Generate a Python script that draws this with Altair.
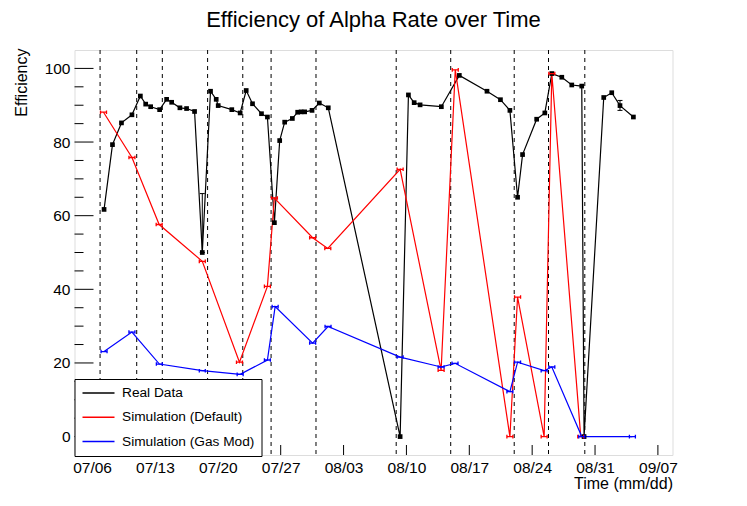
import altair as alt
import pandas as pd

YEAR = 2023
FONT = "Liberation Sans"

series_names = ["Real Data", "Simulation (Default)", "Simulation (Gas Mod)"]
series_colors = ["black", "red", "blue"]

real_time = [
    "07/07 08:00", "07/08 06:30", "07/09 06:30", "07/10 10:30", "07/11 09:00", "07/11 23:15",
    "07/12 12:30", "07/13 12:30", "07/14 07:10", "07/14 20:40", "07/15 18:40", "07/16 12:30",
    "07/17 09:50", "07/18 06:30", "07/19 04:30", "07/19 19:40", "07/20 01:00", "07/21 13:20",
    "07/22 11:40", "07/23 03:50", "07/23 20:40", "07/24 20:40", "07/25 12:30", "07/26 07:10",
    "07/26 21:20", "07/27 10:40", "07/28 07:10", "07/28 21:20", "07/29 06:30", "07/29 16:00",
    "07/30 11:45", "07/31 07:10", "08/01 07:10", "08/09 07:10", "08/10 05:20", "08/10 20:40",
    "08/11 12:30", "08/13 21:20", "08/15 21:20", "08/18 23:15", "08/20 11:15", "08/21 12:30",
    "08/22 09:00", "08/22 22:20", "08/24 12:00", "08/25 09:50", "08/26 04:30", "08/27 07:10",
    "08/28 09:50", "08/29 12:30", "08/29 18:40", "08/31 23:15", "09/01 20:40", "09/02 18:40",
    "09/04 06:30",
]
real_eff = [
    61.7, 79.3, 85.2, 87.4, 92.5, 90.3,
    89.6, 88.8, 91.6, 90.8, 89.3, 89.1,
    88.3, 50.0, 93.8, 91.6, 89.9, 88.8,
    87.9, 94.0, 90.4, 87.7, 86.8, 58.1,
    80.4, 85.4, 86.4, 88.1, 88.2, 88.2,
    88.6, 90.6, 89.3, 0.0, 92.8, 90.7,
    90.1, 89.6, 98.1, 93.8, 91.5, 88.6,
    65.0, 76.6, 86.2, 87.9, 98.6, 97.6,
    95.5, 95.2, 0.0, 92.1, 93.4, 89.9,
    86.8,
]

# visible error bars of the real data
err_time = ["07/18 06:30", "09/02 18:40"]
err_lo = [50.0, 88.6]
err_hi = [66.0, 91.3]

sim_default_time = [
    "07/07 06:30", "07/10 10:30", "07/13 11:15", "07/18 06:30", "07/22 09:50", "07/25 12:30",
    "07/26 07:10", "07/30 13:20", "08/01 05:50", "08/09 07:10", "08/13 20:40", "08/15 10:30",
    "08/21 12:30", "08/22 09:00", "08/25 08:00", "08/26 04:30", "08/29 09:50",
]
sim_default_eff = [
    88.1, 75.8, 57.6, 47.6, 20.2, 40.8,
    64.8, 54.0, 51.1, 72.6, 18.0, 99.6,
    0.0, 37.9, 0.0, 98.6, 0.0,
]

sim_gas_time = [
    "07/07 08:00", "07/10 10:30", "07/13 11:45", "07/18 06:30", "07/22 11:40", "07/25 12:30",
    "07/26 09:10", "07/30 13:20", "08/01 06:30", "08/09 07:10", "08/13 20:40", "08/15 09:50",
    "08/21 12:30", "08/22 09:00", "08/25 08:00", "08/26 04:30", "08/29 12:30", "09/04 03:50",
]
sim_gas_eff = [
    23.1, 28.4, 19.7, 17.9, 16.9, 20.8,
    35.3, 25.4, 29.9, 21.6, 18.9, 19.9,
    12.2, 20.2, 17.9, 18.9, 0.0, 0.0,
]

run_boundaries = [
    "07/06 21:20", "07/10 23:15", "07/13 19:40", "07/18 20:40", "07/22 18:40", "07/25 22:20",
    "07/30 22:20", "08/08 20:40", "08/14 22:20", "08/22 00:00", "08/25 19:40", "08/29 20:40",
]

x_tick_dates = [(7, 6), (7, 13), (7, 20), (7, 27), (8, 3), (8, 10), (8, 17), (8, 24), (8, 31), (9, 7)]
y_major = [0, 20, 40, 60, 80, 100]
y_minor = [5, 10, 15, 25, 30, 35, 45, 50, 55, 65, 70, 75, 85, 90, 95]


def iso(s):
    md, hm = s.split(" ")
    m, d = md.split("/")
    return f"{YEAR}-{m}-{d}T{hm}:00"


frames = []
for name, times, effs in [
    (series_names[0], real_time, real_eff),
    (series_names[1], sim_default_time, sim_default_eff),
    (series_names[2], sim_gas_time, sim_gas_eff),
]:
    frames.append(pd.DataFrame({"time": [iso(t) for t in times], "eff": effs, "series": name}))
data = pd.concat(frames, ignore_index=True)

err_df = pd.DataFrame({"time": [iso(t) for t in err_time], "lo": err_lo, "hi": err_hi})
bound_df = pd.DataFrame({"time": [iso(t) for t in run_boundaries]})
xtick_df = pd.DataFrame({"time": [f"{YEAR}-{m:02d}-{d:02d}T00:00:00" for m, d in x_tick_dates]})
ymaj_df = pd.DataFrame({"eff": y_major})
ymin_df = pd.DataFrame({"eff": y_minor})

W, H = 598, 405

xscale = alt.Scale(domain=[alt.DateTime(year=YEAR, month=7, date=4, hours=1),
                           alt.DateTime(year=YEAR, month=9, date=8, hours=15)])
yscale = alt.Scale(domain=[-5, 105], nice=False, zero=False)

xaxis = alt.Axis(
    values=[alt.DateTime(year=YEAR, month=m, date=d) for m, d in x_tick_dates],
    format="%m/%d", title="Time (mm/dd)", ticks=False, domain=False, grid=False,
    labelFont=FONT, labelFontSize=15.5, labelColor="black", labelPadding=5,
    titleFont=FONT, titleFontSize=16, titleFontWeight="normal", titleColor="black",
    titleX=W, titleY=33, titleAlign="right", titleBaseline="alphabetic",
)
yaxis = alt.Axis(
    values=y_major, title="Efficiency", ticks=False, domain=False, grid=False,
    labelFont=FONT, labelFontSize=15.5, labelColor="black", labelPadding=4.5,
    titleFont=FONT, titleFontSize=16, titleFontWeight="normal", titleColor="black",
    titleX=-53, titleY=-2, titleAlign="right", titleBaseline="middle", titleAngle=270,
)


def X(field="time"):
    return alt.X(f"{field}:T", scale=xscale, axis=xaxis)


def Y(field="eff"):
    return alt.Y(f"{field}:Q", scale=yscale, axis=yaxis)


dashed = alt.Chart(bound_df).mark_rule(color="black", strokeWidth=1, strokeDash=[4, 4]).encode(x=X())

ymaj = alt.Chart(ymaj_df).mark_rule(color="black", strokeWidth=1).encode(
    y=Y(), x=alt.value(0), x2=alt.value(19))
ymin = alt.Chart(ymin_df).mark_rule(color="black", strokeWidth=1).encode(
    y=Y(), x=alt.value(0), x2=alt.value(9))
xmaj = alt.Chart(xtick_df).mark_rule(color="black", strokeWidth=1).encode(
    x=X(), y=alt.value(H), y2=alt.value(H - 10))

lines = alt.Chart(data).mark_line(strokeWidth=1.2).encode(
    x=X(), y=Y(),
    color=alt.Color(
        "series:N",
        scale=alt.Scale(domain=series_names, range=series_colors),
        legend=alt.Legend(
            title=None, orient="none", legendX=0, legendY=329,
            fillColor="white", strokeColor="black", padding=7,
            symbolType="stroke", symbolSize=1024, symbolStrokeWidth=1.5,
            clipHeight=14, rowPadding=10.3, labelOffset=6.5,
            labelFont=FONT, labelFontSize=13.7, labelColor="black",
        ),
    ),
    detail="series:N",
)

hshape = "M-1,-0.6L-1,0.6M-1,0L1,0M1,-0.6L1,0.6"

real_pts = alt.Chart(data).transform_filter(alt.datum.series == series_names[0]).mark_point(
    shape="square", filled=True, size=22, color="black", opacity=1).encode(x=X(), y=Y())
red_pts = alt.Chart(data).transform_filter(alt.datum.series == series_names[1]).mark_point(
    shape=hshape, filled=False, size=36, color="red", strokeWidth=1.3, opacity=1).encode(x=X(), y=Y())
blue_pts = alt.Chart(data).transform_filter(alt.datum.series == series_names[2]).mark_point(
    shape=hshape, filled=False, size=36, color="blue", strokeWidth=1.3, opacity=1).encode(x=X(), y=Y())

err_rule = alt.Chart(err_df).mark_rule(color="black", strokeWidth=1).encode(x=X(), y=Y("lo"), y2="hi:Q")
cap = "M-1,0L1,0"
err_lo_cap = alt.Chart(err_df).mark_point(shape=cap, size=25, color="black", strokeWidth=1, opacity=1).encode(
    x=X(), y=Y("lo"))
err_hi_cap = alt.Chart(err_df).mark_point(shape=cap, size=25, color="black", strokeWidth=1, opacity=1).encode(
    x=X(), y=Y("hi"))

chart = alt.layer(
    dashed, ymaj, ymin, xmaj, lines, err_rule, err_lo_cap, err_hi_cap, real_pts, red_pts, blue_pts
).properties(
    width=W, height=H,
    title=alt.Title("Efficiency of Alpha Rate over Time", font=FONT, fontSize=22, fontWeight="normal",
                    color="black", anchor="middle", baseline="alphabetic", offset=-1),
    autosize=alt.AutoSizeParams(type="none"),
    padding={"left": 66.5, "top": 42, "right": 60, "bottom": 40},
).configure_view(stroke="black", strokeWidth=1).configure(background="white")

chart.save("out.html", embed_options={"renderer": "svg", "actions": False})
